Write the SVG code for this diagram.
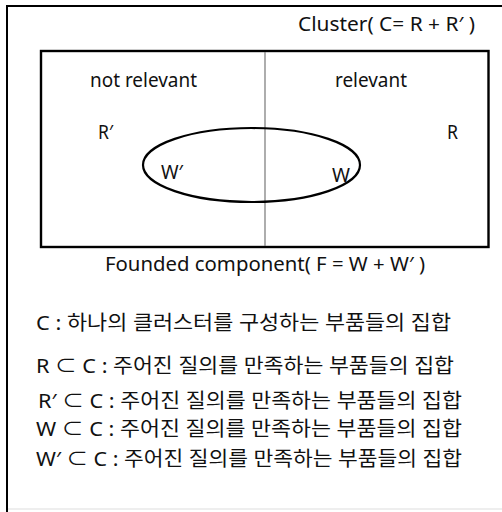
<svg xmlns="http://www.w3.org/2000/svg" width="502" height="512" viewBox="0 0 502 512">
<style>
.t{font-family:"Noto Sans","Noto Sans CJK KR",sans-serif;font-size:19px;fill:#111}
.k{font-family:"Noto Sans","Noto Sans CJK KR",sans-serif;font-size:20px;fill:#111}
</style>
<rect width="502" height="512" fill="#fff"/>
<g id="frame">
<path d="M7 512 V6 H502" fill="none" stroke="#000" stroke-width="2"/>
<path d="M8 509 H502" fill="none" stroke="#ddd" stroke-width="1"/>
</g>
<g id="cluster">
<rect x="41" y="51" width="447.5" height="196" fill="none" stroke="#000" stroke-width="2.4"/>
<text class="t" x="298" y="31" textLength="177" lengthAdjust="spacingAndGlyphs">Cluster( C= R + R′ )</text>
</g>
<g id="connectors">
<line x1="265" y1="52" x2="265" y2="246" stroke="#777" stroke-width="1.2"/>
</g>
<g id="not-relevant">
<text class="t" x="90" y="87" textLength="107" lengthAdjust="spacingAndGlyphs">not relevant</text>
<text class="t" x="98" y="139" textLength="15" lengthAdjust="spacingAndGlyphs">R′</text>
</g>
<g id="relevant">
<text class="t" x="335" y="87" textLength="72" lengthAdjust="spacingAndGlyphs">relevant</text>
<text class="t" x="447" y="139" textLength="11" lengthAdjust="spacingAndGlyphs">R</text>
</g>
<g id="founded">
<ellipse cx="251.5" cy="165" rx="108.5" ry="37" fill="none" stroke="#000" stroke-width="2.2"/>
<text class="t" x="161" y="179" textLength="22" lengthAdjust="spacingAndGlyphs">W′</text>
<text class="t" x="332" y="182" textLength="18" lengthAdjust="spacingAndGlyphs">W</text>
<text class="t" x="105" y="271" textLength="320" lengthAdjust="spacingAndGlyphs">Founded component( F = W + W′ )</text>
</g>
<g id="legend">
<text class="k" x="36" y="330" textLength="415" lengthAdjust="spacingAndGlyphs">C : 하나의 클러스터를 구성하는 부품들의 집합</text>
<text class="k" x="36" y="373" textLength="418" lengthAdjust="spacingAndGlyphs">R ⊂ C : 주어진 질의를 만족하는 부품들의 집합</text>
<text class="k" x="38" y="408" textLength="424" lengthAdjust="spacingAndGlyphs">R′ ⊂ C : 주어진 질의를 만족하는 부품들의 집합</text>
<text class="k" x="36" y="436" textLength="426" lengthAdjust="spacingAndGlyphs">W ⊂ C : 주어진 질의를 만족하는 부품들의 집합</text>
<text class="k" x="36" y="466" textLength="426" lengthAdjust="spacingAndGlyphs">W′ ⊂ C : 주어진 질의를 만족하는 부품들의 집합</text>
</g>
</svg>
